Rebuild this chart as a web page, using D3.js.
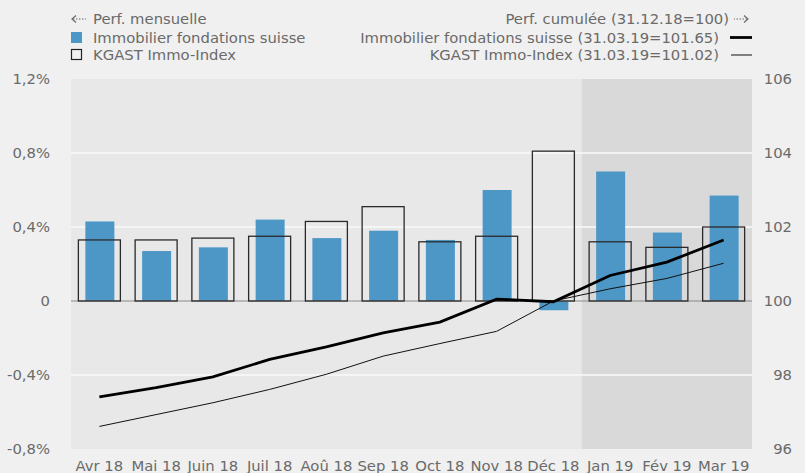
<!DOCTYPE html>
<html>
<head>
<meta charset="utf-8">
<script src="https://cdn.jsdelivr.net/npm/d3@7"></script>
<style>
  body { margin: 0; background: #f0f0f0; }
  svg { display: block; font-family: 'DejaVu Sans', sans-serif; }
</style>
</head>
<body>
<svg id="chart" width="805" height="473"></svg>
<script>
// months shown on the x-axis
const months = ['Avr 18', 'Mai 18', 'Juin 18', 'Juil 18', 'Aoû 18', 'Sep 18',
  'Oct 18', 'Nov 18', 'Déc 18', 'Jan 19', 'Fév 19', 'Mar 19'];

// monthly performance in %
const fondsMonthly = [0.43, 0.27, 0.29, 0.44, 0.34, 0.38, 0.33, 0.60, -0.05, 0.70, 0.37, 0.57];
const kgastMonthly = [0.33, 0.33, 0.34, 0.35, 0.43, 0.51, 0.32, 0.35, 0.81, 0.32, 0.29, 0.40];

// cumulated performance (31.12.18 = 100)
const fondsCumul = [97.41, 97.66, 97.95, 98.42, 98.76, 99.14, 99.43, 100.05, 99.98, 100.69, 101.05, 101.65];
const kgastCumul = [96.61, 96.93, 97.25, 97.61, 98.02, 98.51, 98.85, 99.18, 100.0, 100.33, 100.61, 101.02];

const leftTicks = [-0.8, -0.4, 0, 0.4, 0.8, 1.2];
const rightTicks = [96, 98, 100, 102, 104, 106];
const shadedFrom = 'Jan 19';

const blue = '#4d97c6';
const textColor = '#6a6a6a';
const fontSize = '14.8px';

const svg = d3.select('#chart');
const margin = { top: 79, right: 53, bottom: 24, left: 71 };
const width = +svg.attr('width') - margin.left - margin.right;
const height = +svg.attr('height') - margin.top - margin.bottom;

const chart = svg.append('g')
  .attr('transform', `translate(${margin.left}, ${margin.top})`);

const x = d3.scaleBand()
  .domain(months)
  .range([0, width]);

const yLeft = d3.scaleLinear()
  .domain([-0.8, 1.2])
  .range([height, 0]);

const yRight = d3.scaleLinear()
  .domain([96, 106])
  .range([height, 0]);

// plot background + shaded 2019 part
chart.append('rect')
  .attr('width', width)
  .attr('height', height)
  .attr('fill', '#e8e8e8');

chart.append('rect')
  .attr('x', x(shadedFrom))
  .attr('width', width - x(shadedFrom))
  .attr('height', height)
  .attr('fill', '#d9d9d9');

// white gridlines
chart.append('g')
  .selectAll('line')
  .data(leftTicks.filter(d => d !== 0 && d !== 1.2 && d !== -0.8))
  .join('line')
    .attr('x1', 0)
    .attr('x2', width)
    .attr('y1', d => yLeft(d))
    .attr('y2', d => yLeft(d))
    .attr('stroke', '#fafafa')
    .attr('stroke-width', 1.5);

const styleText = g => g.selectAll('text')
  .attr('fill', textColor)
  .style('font-size', fontSize)
  .style('font-family', 'DejaVu Sans');

// left axis (hyphen as minus, comma as decimal mark)
chart.append('g')
  .attr('transform', 'translate(-18, 0)')
  .call(d3.axisLeft(yLeft)
    .tickValues(leftTicks)
    .tickSize(0)
    .tickFormat(d => (d === 0 ? '0' : `${d < 0 ? '-' : ''}${Math.abs(d).toFixed(1).replace('.', ',')}%`)))
  .call(g => g.select('.domain').remove())
  .call(styleText);

// right axis
chart.append('g')
  .attr('transform', `translate(${width + 37}, 0)`)
  .call(d3.axisRight(yRight)
    .tickValues(rightTicks)
    .tickSize(0))
  .call(g => g.select('.domain').remove())
  .call(styleText)
  .call(g => g.selectAll('text').attr('text-anchor', 'end'));

// bottom axis labels
chart.append('g')
  .attr('transform', `translate(0, ${height})`)
  .call(d3.axisBottom(x).tickSize(0).tickPadding(11))
  .call(g => g.select('.domain').remove())
  .call(styleText);

// blue bars: Immobilier fondations suisse
const blueW = 29;
chart.append('g')
  .selectAll('rect')
  .data(fondsMonthly)
  .join('rect')
    .attr('x', (d, i) => x(months[i]) + x.bandwidth() / 2 - blueW / 2 + 0.5)
    .attr('y', d => yLeft(Math.max(0, d)))
    .attr('width', blueW)
    .attr('height', d => Math.abs(yLeft(d) - yLeft(0)))
    .attr('fill', blue);

// zero line
chart.append('line')
  .attr('x1', 0)
  .attr('x2', width)
  .attr('y1', yLeft(0))
  .attr('y2', yLeft(0))
  .attr('stroke', '#8a8a8a')
  .attr('stroke-width', 1);

// outlined bars: KGAST Immo-Index
const boxW = 42;
chart.append('g')
  .selectAll('rect')
  .data(kgastMonthly)
  .join('rect')
    .attr('x', (d, i) => x(months[i]) + x.bandwidth() / 2 - boxW / 2)
    .attr('y', d => yLeft(Math.max(0, d)))
    .attr('width', boxW)
    .attr('height', d => Math.abs(yLeft(d) - yLeft(0)))
    .attr('fill', 'none')
    .attr('stroke', '#2a2a2a')
    .attr('stroke-width', 1.3);

// cumulated lines
const line = d3.line()
  .x((d, i) => x(months[i]) + x.bandwidth() / 2)
  .y(d => yRight(d));

chart.append('path')
  .datum(kgastCumul)
  .attr('d', line)
  .attr('fill', 'none')
  .attr('stroke', '#111')
  .attr('stroke-width', 1);

chart.append('path')
  .datum(fondsCumul)
  .attr('d', line)
  .attr('fill', 'none')
  .attr('stroke', '#000')
  .attr('stroke-width', 2.8);

// dotted arrows that point to the matching axis
const arrow = (tipX, yPos, dir) => {
  const g = svg.append('g').attr('stroke', textColor).attr('fill', 'none').attr('stroke-width', 1.2);
  g.append('path')
    .attr('d', `M${tipX + dir * 4},${yPos - 3.5}L${tipX},${yPos}L${tipX + dir * 4},${yPos + 3.5}`);
  g.append('line')
    .attr('x1', tipX + dir * 1)
    .attr('x2', tipX + dir * 14)
    .attr('y1', yPos)
    .attr('y2', yPos)
    .attr('stroke-dasharray', '1.5,1.5');
};
arrow(72, 19, 1);
arrow(748, 19, -1);

// legend, left side
const legL = svg.append('g')
  .style('font-size', fontSize)
  .attr('fill', textColor);

legL.append('text').attr('x', 93).attr('y', 24).text('Perf. mensuelle');
legL.append('rect').attr('x', 71).attr('y', 32).attr('width', 11).attr('height', 11).attr('fill', blue);
legL.append('text').attr('x', 93).attr('y', 43).text('Immobilier fondations suisse');
legL.append('rect').attr('x', 71.5).attr('y', 49.5).attr('width', 10).attr('height', 10)
  .attr('fill', 'none').attr('stroke', '#222').attr('stroke-width', 1.2);
legL.append('text').attr('x', 93).attr('y', 60).text('KGAST Immo-Index');

// legend, right side
const legR = svg.append('g')
  .style('font-size', fontSize)
  .attr('fill', textColor)
  .attr('text-anchor', 'end');

legR.append('text').attr('x', 729).attr('y', 24).text('Perf. cumulée (31.12.18=100)');
legR.append('text').attr('x', 719).attr('y', 43).text('Immobilier fondations suisse (31.03.19=101.65)');
legR.append('text').attr('x', 719).attr('y', 60).text('KGAST Immo-Index (31.03.19=101.02)');
svg.append('line').attr('x1', 730).attr('x2', 752).attr('y1', 37.5).attr('y2', 37.5)
  .attr('stroke', '#000').attr('stroke-width', 2.8);
svg.append('line').attr('x1', 731).attr('x2', 752).attr('y1', 55).attr('y2', 55)
  .attr('stroke', '#111').attr('stroke-width', 1);
</script>
</body>
</html>
